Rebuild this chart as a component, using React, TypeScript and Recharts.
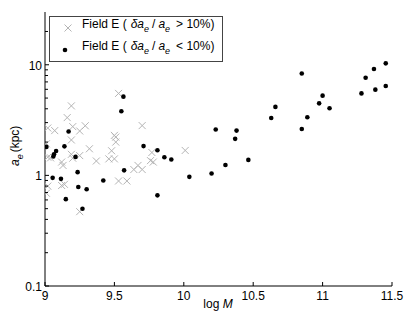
import React from 'react';
import { ScatterChart, Scatter, XAxis, YAxis, Legend } from 'recharts';

const FONT = '"Liberation Sans", Arial, sans-serif';
const TICK_LEN = 4;

const xTicks = [9, 9.5, 10, 10.5, 11, 11.5];
const yTicks = [0.1, 0.2, 0.3, 0.4, 0.5, 0.6, 0.7, 0.8, 0.9, 1, 2, 3, 4, 5, 6, 7, 8, 9, 10, 20];
const yLabels = [0.1, 1, 10];

// Field E, delta a_e / a_e > 10%
const looseM = [
  9.19, 9.16, 9.02, 9.07, 9.2, 9.25, 9.29, 9.7, 9.19, 9.5, 9.51, 9.51, 9.01, 9.32, 9.48, 9.02, 9.04, 9.19, 9.2, 9.25,
  9.37, 9.46, 9.5, 9.12, 9.13, 9.77, 9.76, 9.78, 10.01, 9.67, 9.64, 9.7, 9.53, 9.59, 9.02, 9.12, 9.14, 9.01, 9.25, 9.53,
];
const looseA = [
  4.25, 3.33, 2.68, 2.54, 2.76, 2.52, 2.81, 2.82, 2.09, 2.3, 2.22, 2.0, 1.93, 1.74, 1.67, 1.46, 1.44, 1.55, 1.43, 1.51,
  1.35, 1.41, 1.41, 1.32, 1.23, 1.61, 1.36, 1.32, 1.68, 1.23, 1.13, 1.13, 0.89, 0.89, 0.8, 0.81, 0.83, 0.69, 0.47, 5.51,
];

// Field E, delta a_e / a_e < 10%
const tightM = [
  9.01, 9.06, 9.065, 9.08, 9.14, 9.17, 9.22, 9.055, 9.115, 9.15, 9.235, 9.24, 9.3, 9.27, 9.42, 9.55, 9.565, 9.57, 9.71,
  9.81, 9.86, 9.91, 9.81, 10.04, 10.2, 10.23, 10.3, 10.37, 10.38, 10.465, 10.63, 10.66, 10.85, 10.85, 10.89, 10.975, 11.0,
  11.05, 11.28, 11.31, 11.37, 11.38, 11.455, 11.455,
];
const tightA = [
  1.81, 1.48, 1.55, 1.66, 1.83, 2.49, 1.47, 0.95, 0.93, 0.61, 1.07, 0.785, 0.75, 0.5, 0.9, 3.8, 5.15, 1.11, 1.84,
  1.69, 1.46, 1.39, 0.66, 0.97, 1.04, 2.6, 1.24, 2.14, 2.54, 1.38, 3.3, 4.16, 8.35, 2.63, 3.35, 4.48, 5.26,
  4.04, 5.51, 7.64, 9.15, 5.96, 10.3, 6.43,
];

const looseData = looseM.map((m, i) => ({ m, a: looseA[i] }));
const tightData = tightM.map((m, i) => ({ m, a: tightA[i] }));

const crossPath = (cx: number, cy: number, r: number) =>
  `M${cx - r},${cy - r}L${cx + r},${cy + r}M${cx - r},${cy + r}L${cx + r},${cy - r}`;

const Cross = (p: any) => <path d={crossPath(p.cx, p.cy, 3.5)} stroke="#b4b4b4" strokeWidth={1} fill="none" />;
const Dot = (p: any) => <circle cx={p.cx} cy={p.cy} r={2.3} fill="#000" />;

function BottomTick({ x, y, payload }: any) {
  return (
    <g>
      <line x1={x} y1={y} x2={x} y2={y - TICK_LEN} stroke="#000" />
      <text x={x} y={y + 14} textAnchor="middle" fontSize={12} fontFamily={FONT} fill="#000">
        {payload.value}
      </text>
    </g>
  );
}

function TopTick({ x, y }: any) {
  return <line x1={x} y1={y} x2={x} y2={y + TICK_LEN} stroke="#000" />;
}

function LeftTick({ x, y, payload }: any) {
  const major = yLabels.includes(payload.value);
  return (
    <g>
      <line x1={x} y1={y} x2={x + (major ? TICK_LEN : 3)} y2={y} stroke="#000" />
      {major && (
        <text x={x - 3} y={y + 5} textAnchor="end" fontSize={12} fontFamily={FONT} fill="#000">
          {payload.value}
        </text>
      )}
    </g>
  );
}

function RightTick({ x, y, payload }: any) {
  const major = yLabels.includes(payload.value);
  return <line x1={x} y1={y} x2={x - (major ? TICK_LEN : 3)} y2={y} stroke="#000" />;
}

function LegendBox() {
  const line = (sign: string, y: number) => (
    <text x={33} y={y} fontSize={12} fontFamily={FONT} fill="#000">
      Field E (<tspan dx={4} fontStyle="italic">δa</tspan>
      <tspan dy={4} fontSize={9} fontStyle="italic">e</tspan>
      <tspan dy={-4} dx={3}>/</tspan>
      <tspan dx={3} fontStyle="italic">a</tspan>
      <tspan dy={4} fontSize={9} fontStyle="italic">e</tspan>
      <tspan dy={-4} dx={6}>{sign} 10%)</tspan>
    </text>
  );
  return (
    <svg width={174} height={46} style={{ display: 'block' }}>
      <rect x={0.5} y={0.5} width={173} height={45} fill="#fff" stroke="#444" />
      <path d={crossPath(19, 12, 3.5)} stroke="#b4b4b4" fill="none" />
      <circle cx={16} cy={34} r={2.3} fill="#000" />
      {line('>', 11.5)}
      {line('<', 33.5)}
    </svg>
  );
}

export default function App() {
  return (
    <div style={{ position: 'absolute', left: 0, top: 0, width: 407, height: 317, background: '#fff' }}>
      <ScatterChart width={407} height={317} margin={{ top: 12, right: 15, bottom: 0, left: 0 }}>
        <XAxis
          xAxisId="bottom"
          dataKey="m"
          type="number"
          domain={[9, 11.5]}
          ticks={xTicks}
          interval={0}
          height={31}
          tickSize={0}
          tickMargin={0}
          tickLine={false}
          axisLine={{ stroke: '#000' }}
          tick={<BottomTick />}
          allowDataOverflow
        />
        <XAxis
          xAxisId="top"
          orientation="top"
          type="number"
          domain={[9, 11.5]}
          ticks={xTicks}
          interval={0}
          height={0}
          tickSize={0}
          tickMargin={0}
          tickLine={false}
          axisLine={{ stroke: '#333' }}
          tick={<TopTick />}
          allowDataOverflow
        />
        <YAxis
          yAxisId="left"
          dataKey="a"
          type="number"
          scale="log"
          domain={[0.1, 30]}
          ticks={yTicks}
          interval={0}
          width={45}
          tickSize={0}
          tickMargin={0}
          tickLine={false}
          axisLine={{ stroke: '#000' }}
          tick={<LeftTick />}
          allowDataOverflow
        />
        <YAxis
          yAxisId="right"
          orientation="right"
          type="number"
          scale="log"
          domain={[0.1, 30]}
          ticks={yTicks}
          interval={0}
          width={0}
          tickSize={0}
          tickMargin={0}
          tickLine={false}
          axisLine={{ stroke: '#333' }}
          tick={<RightTick />}
          allowDataOverflow
        />
        <Scatter
          xAxisId="bottom"
          yAxisId="left"
          data={looseData}
          shape={Cross}
          isAnimationActive={false}
        />
        <Scatter
          xAxisId="bottom"
          yAxisId="left"
          data={tightData}
          shape={Dot}
          isAnimationActive={false}
        />
        <Legend
          layout="vertical"
          align="center"
          verticalAlign="middle"
          wrapperStyle={{ left: 49, top: 16, width: 174, height: 46 }}
          content={() => <LegendBox />}
        />
        <text x={218} y={308} textAnchor="middle" fontSize={12} fontFamily={FONT} fill="#000">
          log <tspan fontStyle="italic">M</tspan>
        </text>
        <text transform="translate(19,166) rotate(-90)" fontSize={12} fontFamily={FONT} fill="#000">
          <tspan fontStyle="italic">a</tspan>
          <tspan dy={4} fontSize={9} fontStyle="italic">e</tspan>
          <tspan dy={-4} dx={2}>(kpc)</tspan>
        </text>
      </ScatterChart>
    </div>
  );
}
